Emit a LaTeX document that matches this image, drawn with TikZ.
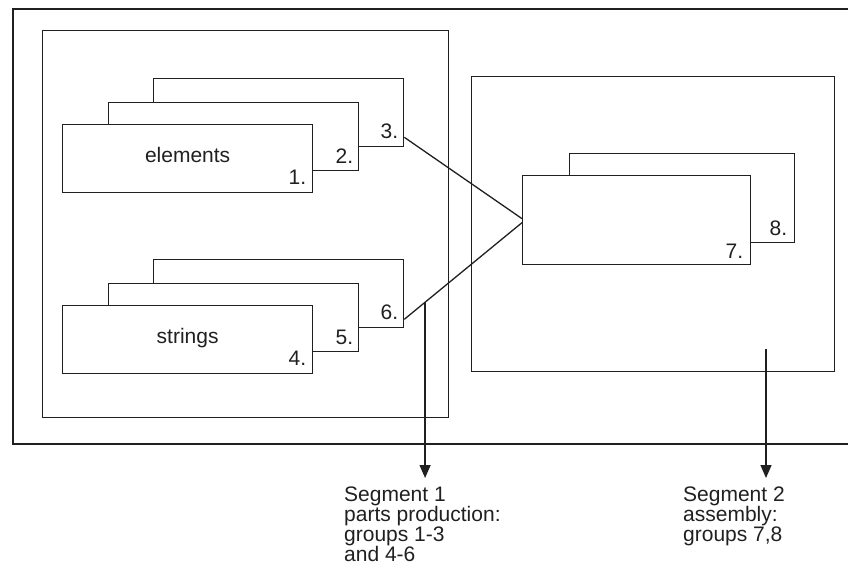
\documentclass[tikz,border=0pt]{standalone}
\usepackage{fontspec}
\setmainfont{Liberation Sans}
\usetikzlibrary{calc,arrows.meta}
\definecolor{ln}{HTML}{202020}
\tikzset{
  frame/.style={draw=ln, line width=1.3pt},
  card/.style={draw=ln, fill=white, line width=1.3pt, inner sep=0pt, anchor=north west},
  num/.style={anchor=base east, inner sep=0pt, text=ln},
  title/.style={anchor=base, inner sep=0pt, text=ln},
  conn/.style={draw=ln, line width=1.3pt},
  arr/.style={draw=ln, line width=1.3pt, -{Triangle[width=11pt,length=13pt]}},
  caption/.style={anchor=north west, align=left, inner sep=0pt, text=ln}
}
\begin{document}
\begin{tikzpicture}[x=1pt,y=-1pt, font=\fontsize{21}{20}\selectfont]
\useasboundingbox (0,0) rectangle (848,566);
% outer open frame
\draw[frame] (849,9) -- (13,9) -- (13,444) -- (849,444);
% segment 1 frame
\node[frame, inner sep=0pt, anchor=north west, minimum width=406pt, minimum height=387pt] (seg1) at (42,30) {};
% segment 2 frame
\node[frame, inner sep=0pt, anchor=north west, minimum width=363pt, minimum height=295pt] (seg2) at (471,76) {};
% elements group
\node[card, minimum width=250pt, minimum height=68pt] (b3) at (153,78) {};
\node[card, minimum width=250pt, minimum height=68pt] (b2) at (108,102) {};
\node[card, minimum width=250pt, minimum height=68pt] (b1) at (62,124) {};
% strings group
\node[card, minimum width=250pt, minimum height=68pt] (b6) at (153,259) {};
\node[card, minimum width=250pt, minimum height=68pt] (b5) at (108,283) {};
\node[card, minimum width=250pt, minimum height=68pt] (b4) at (62,305) {};
% assembly group
\node[card, minimum width=225pt, minimum height=89pt] (b8) at (569,153) {};
\node[card, minimum width=228pt, minimum height=89pt] (b7) at (522,175) {};
% labels
\node[title] (t1) at ([yshift=-4pt]b1.center) {elements};
\node[title] (t4) at ([yshift=-4pt]b4.center) {strings};
\node[num] (n1) at ([xshift=-7pt,yshift=9pt]b1.south east) {1.};
\node[num] (n2) at ([xshift=-6pt,yshift=8pt]b2.south east) {2.};
\node[num] (n3) at ([xshift=-6pt,yshift=9pt]b3.south east) {3.};
\node[num] (n4) at ([xshift=-7pt,yshift=9pt]b4.south east) {4.};
\node[num] (n5) at ([xshift=-6pt,yshift=8pt]b5.south east) {5.};
\node[num] (n6) at ([xshift=-6pt,yshift=9pt]b6.south east) {6.};
\node[num] (n7) at ([xshift=-8pt,yshift=7pt]b7.south east) {7.};
\node[num] (n8) at ([xshift=-8pt,yshift=8pt]b8.south east) {8.};
% connectors
\coordinate (c3) at ([yshift=10pt]b3.south east);
\coordinate (c6) at ([yshift=9pt]b6.south east);
\coordinate (c7a) at ([yshift=1.5pt]b7.west);
\coordinate (c7b) at ([yshift=-2.5pt]b7.west);
\draw[conn] (c3) -- (c7a);
\draw[conn] (c6) -- (c7b);
% arrows
\coordinate (s1) at ($(c6)!0.1765!(c7b)$);
\coordinate (e1) at (424,478);
\coordinate (s2) at (766,349);
\coordinate (e2) at (766,478);
\draw[arr] (s1) -- (s1 |- e1);
\draw[arr] (s2) -- (e2);
% captions
\node[caption] (cap1) at (344,486.5) {Segment 1\\parts production:\\groups 1-3\\and 4-6};
\node[caption] (cap2) at (683,486.5) {Segment 2\\assembly:\\groups 7,8};
\end{tikzpicture}
\end{document}
